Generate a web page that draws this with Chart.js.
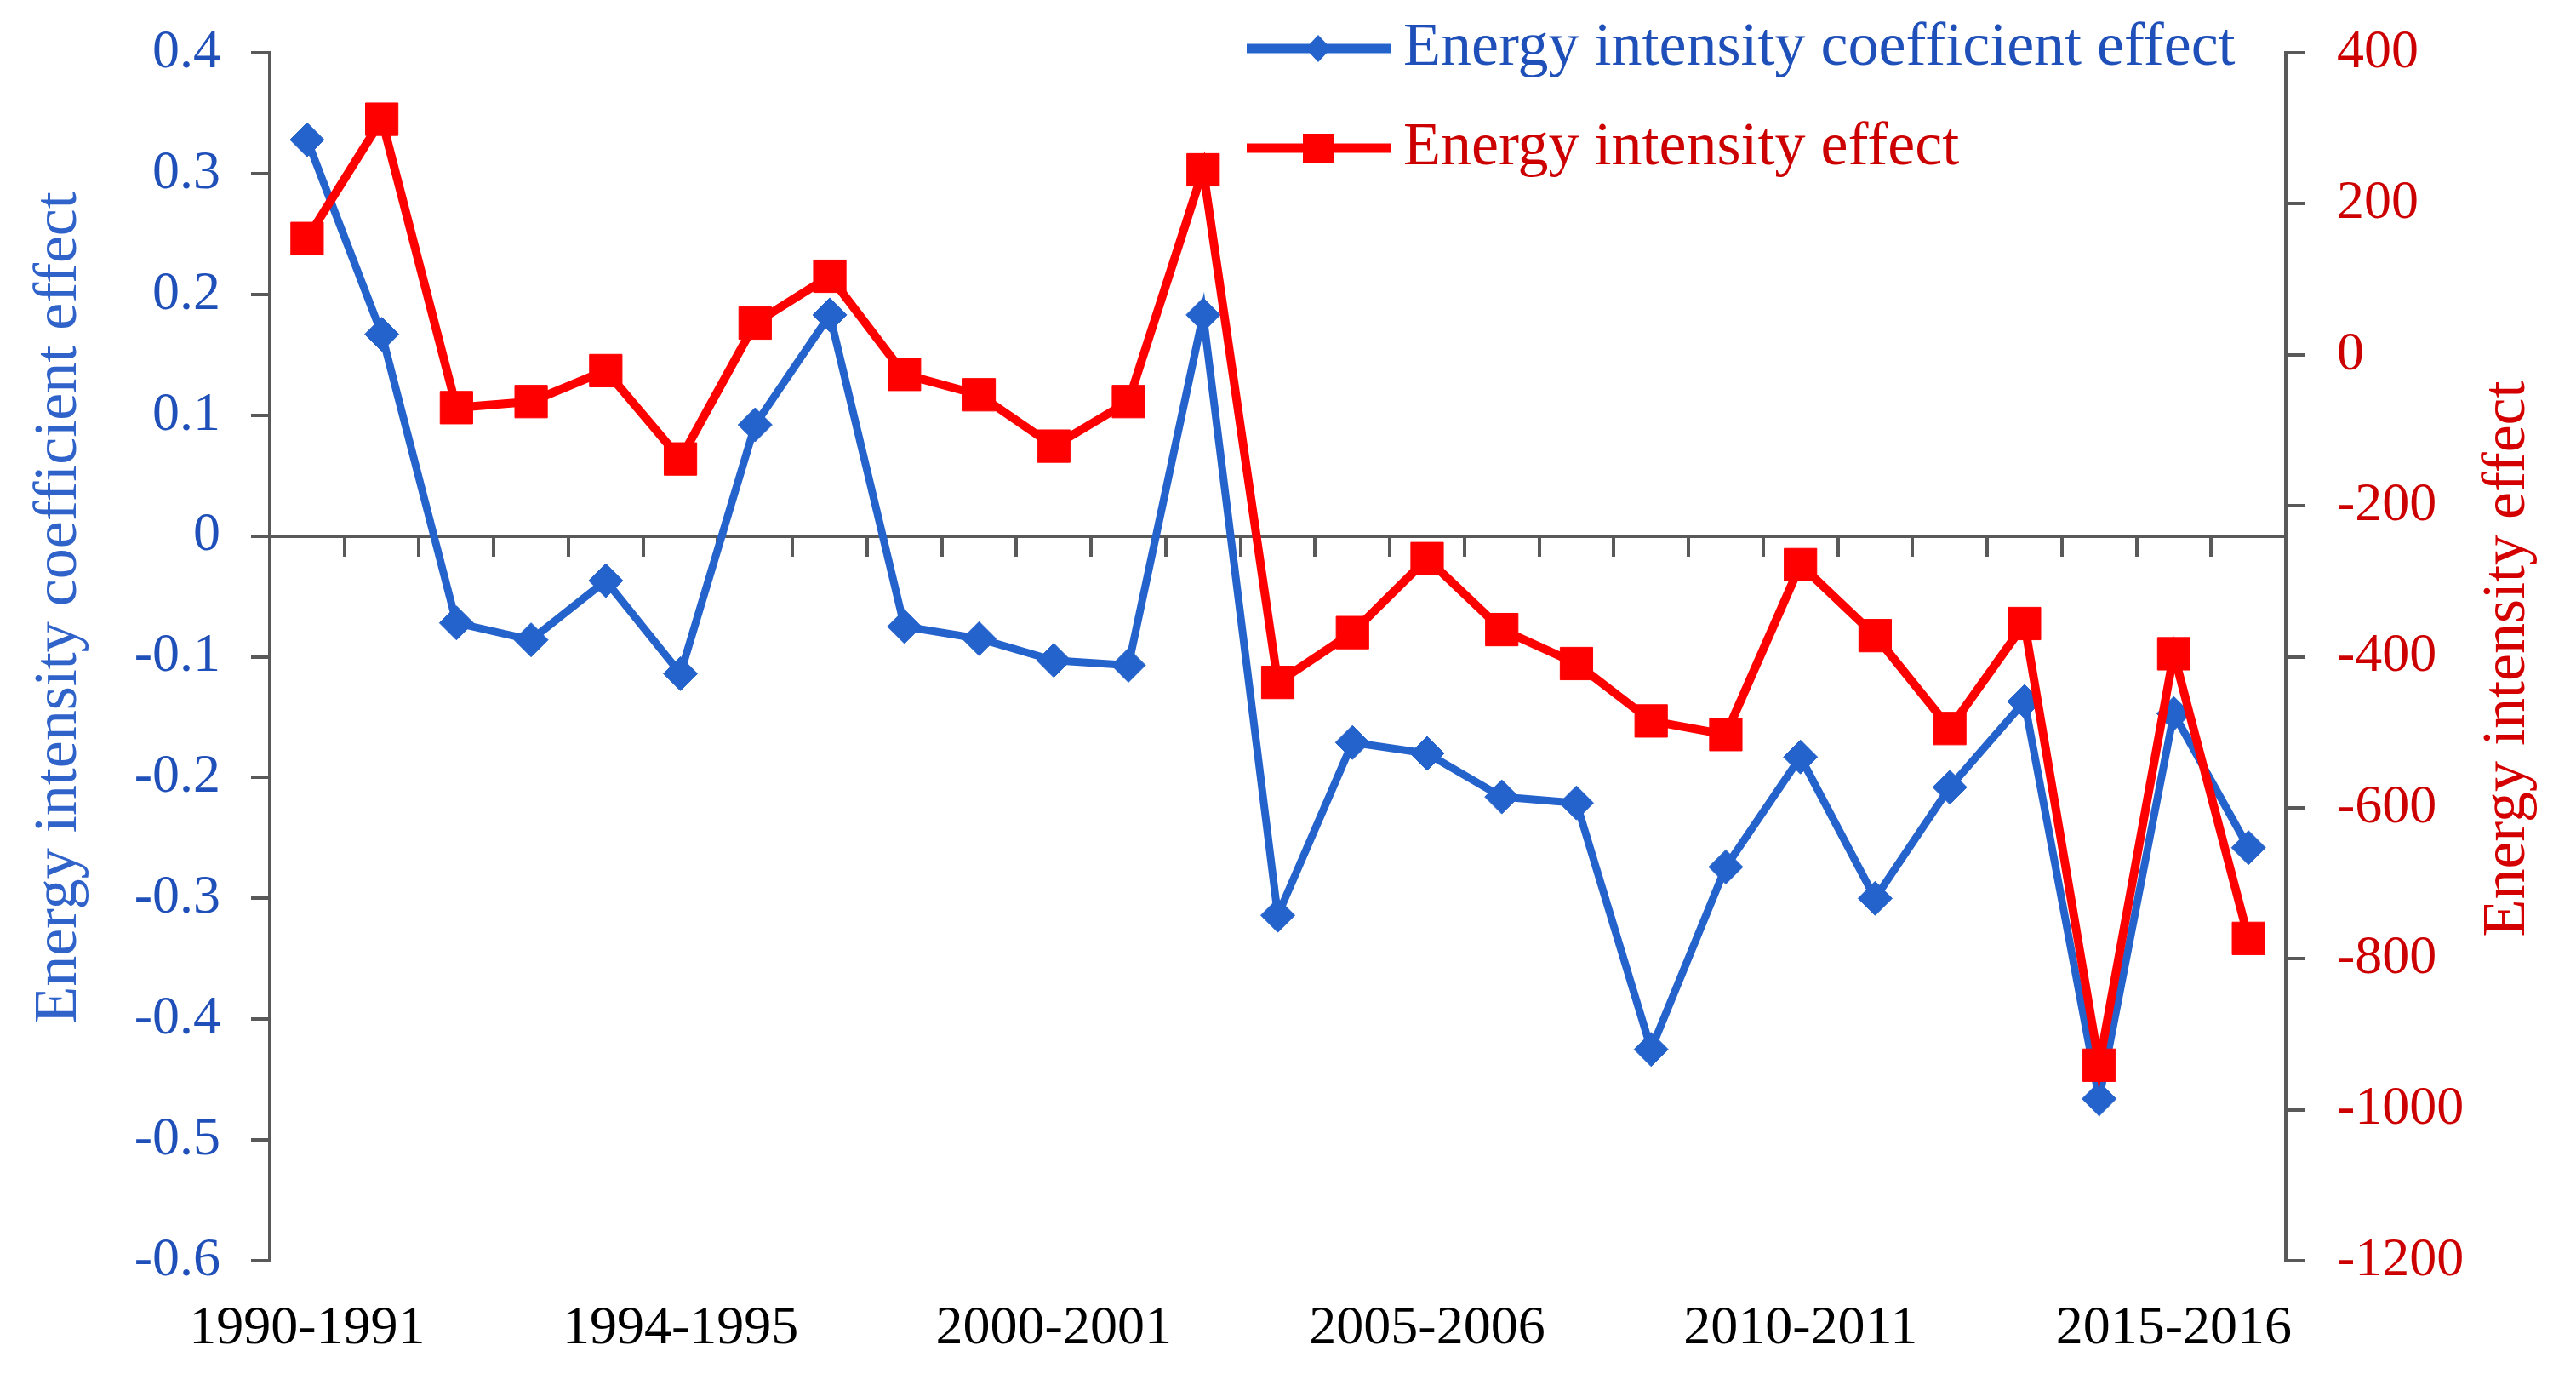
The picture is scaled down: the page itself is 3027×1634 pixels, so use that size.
<!DOCTYPE html>
<html>
<head>
<meta charset="utf-8">
<script src="https://cdn.jsdelivr.net/npm/chart.js@4.4.1/dist/chart.umd.min.js"></script>
<style>
    html, body { margin: 0; padding: 0; background: #ffffff; }
    #wrap { width: 3027px; height: 1634px; }
</style>
</head>
<body>
<div id="wrap"><canvas id="chart" width="3027" height="1634"></canvas></div>
<script>
// Periods on the category axis
const arrPeriods = [
    '1990-1991', '1991-1992', '1992-1993', '1993-1994', '1994-1995', '1995-1996',
    '1996-1997', '1997-1998', '1998-1999', '1999-2000', '2000-2001', '2001-2002',
    '2002-2003', '2003-2004', '2004-2005', '2005-2006', '2006-2007', '2007-2008',
    '2008-2009', '2009-2010', '2010-2011', '2011-2012', '2012-2013', '2013-2014',
    '2014-2015', '2015-2016', '2016-2017'
];

// Labels printed under the axis, one every fifth period (as in the figure)
const arrTickLabels = ['1990-1991', '1994-1995', '2000-2001', '2005-2006', '2010-2011', '2015-2016'];
const nLabelEvery = 5;

// Energy intensity coefficient effect (left axis)
const arrCoefEffect = [
    0.328, 0.167, -0.072, -0.086, -0.037, -0.114, 0.092, 0.183, -0.075,
    -0.085, -0.103, -0.107, 0.183, -0.314, -0.171, -0.180, -0.216, -0.221,
    -0.425, -0.274, -0.183, -0.300, -0.208, -0.137, -0.466, -0.147, -0.258
];

// Energy intensity effect (right axis)
const arrIntensityEffect = [
    154, 312, -70, -62, -21, -138, 42, 104, -26,
    -53, -121, -62, 245, -434, -368, -270, -364, -409,
    -485, -503, -278, -372, -495, -356, -941, -396, -773
];

// Axis ticks
const arrLeftTicks = [0.4, 0.3, 0.2, 0.1, 0, -0.1, -0.2, -0.3, -0.4, -0.5, -0.6];
const arrRightTicks = [400, 200, 0, -200, -400, -600, -800, -1000, -1200];

// Colours & fonts
const strBlue = '#2462CC';
const strBlueText = '#1F4FB8';
const strRed = '#FF0000';
const strRedText = '#CC0000';
const strAxis = '#595959';
const strFont = '"Liberation Serif", "Times New Roman", serif';

/** Draws an Excel-like legend and both axis titles on top of the chart */
const excelExtrasPlugin = {
    id: 'excelExtras',
    afterDraw(chart) {
        const ctx = chart.ctx;
        ctx.save();

        // Legend: line + marker + text, blue row then red row
        const arrRows = [
            { ds: chart.data.datasets[0], y: 57, marker: 'diamond', color: strBlue, text: strBlueText },
            { ds: chart.data.datasets[1], y: 174, marker: 'square', color: strRed, text: strRedText }
        ];
        for (const cRow of arrRows) {
            ctx.strokeStyle = cRow.color;
            ctx.lineWidth = 11;
            ctx.beginPath();
            ctx.moveTo(1465, cRow.y);
            ctx.lineTo(1634, cRow.y);
            ctx.stroke();

            ctx.fillStyle = cRow.color;
            ctx.beginPath();
            if (cRow.marker === 'diamond') {
                ctx.moveTo(1549, cRow.y - 16);
                ctx.lineTo(1564, cRow.y);
                ctx.lineTo(1549, cRow.y + 16);
                ctx.lineTo(1534, cRow.y);
                ctx.closePath();
            } else {
                ctx.rect(1549 - 18, cRow.y - 17, 36, 34);
            }
            ctx.fill();

            ctx.fillStyle = cRow.text;
            ctx.font = '72px ' + strFont;
            ctx.textAlign = 'left';
            ctx.textBaseline = 'middle';
            ctx.fillText(cRow.ds.label, 1649, cRow.y);
        }

        // Axis titles, rotated to read bottom to top
        const arrTitles = [
            { text: 'Energy intensity coefficient effect', x: 89, y: 714, color: '#2F63C9' },
            { text: 'Energy intensity effect', x: 2966, y: 774, color: '#D40000' }
        ];
        for (const cTitle of arrTitles) {
            ctx.save();
            ctx.translate(cTitle.x, cTitle.y);
            ctx.rotate(-Math.PI / 2);
            ctx.fillStyle = cTitle.color;
            ctx.font = '72px ' + strFont;
            ctx.textAlign = 'center';
            ctx.textBaseline = 'alphabetic';
            ctx.fillText(cTitle.text, 0, 0);
            ctx.restore();
        }

        ctx.restore();
    }
};

/** Fixes a value axis to a set width and stops its labels from padding the plot */
function fitValueAxis(scale, nWidth) {
    scale.width = nWidth;
    scale.paddingTop = 0;
    scale.paddingBottom = 0;
}

const ctx = document.getElementById('chart').getContext('2d');

new Chart(ctx, {
    type: 'line',
    data: {
        labels: arrPeriods,
        datasets: [{
            label: 'Energy intensity coefficient effect',
            data: arrCoefEffect,
            yAxisID: 'y',
            borderColor: strBlue,
            backgroundColor: strBlue,
            borderWidth: 9,
            pointStyle: 'rectRot',
            pointRadius: 20,
            pointBorderWidth: 1,
            pointBorderColor: strBlue,
            pointBackgroundColor: strBlue,
            tension: 0,
            clip: false,
            order: 1
        }, {
            label: 'Energy intensity effect',
            data: arrIntensityEffect,
            yAxisID: 'y1',
            borderColor: strRed,
            backgroundColor: strRed,
            borderWidth: 10,
            pointStyle: 'rect',
            pointRadius: 27,
            pointBorderWidth: 1,
            pointBorderColor: strRed,
            pointBackgroundColor: strRed,
            tension: 0,
            clip: false,
            order: 0
        }]
    },
    options: {
        responsive: false,
        animation: false,
        devicePixelRatio: 1,
        events: [],
        layout: { padding: { top: 62, left: 0, right: 0, bottom: 0 } },
        plugins: {
            legend: { display: false },
            tooltip: { enabled: false }
        },
        scales: {
            // Category axis sitting on the zero line, tick marks only
            x: {
                type: 'category',
                position: { y: 0 },
                offset: true,
                grid: {
                    offset: true,
                    drawOnChartArea: false,
                    drawTicks: true,
                    tickLength: 22,
                    color: strAxis,
                    lineWidth: 4
                },
                border: { display: true, color: strAxis, width: 4 },
                ticks: { display: false }
            },
            // Same categories, labels only, at the bottom of the plot
            x2: {
                type: 'category',
                position: 'bottom',
                offset: true,
                grid: { display: false, drawTicks: false },
                border: { display: false },
                ticks: {
                    autoSkip: false,
                    maxRotation: 0,
                    padding: 42,
                    color: '#000000',
                    font: { family: strFont, size: 64 },
                    callback: (value, index) => index % nLabelEvery === 0 ? arrTickLabels[index / nLabelEvery] : ''
                },
                afterFit: (scale) => { scale.height = 153; }
            },
            y: {
                position: 'left',
                min: -0.6,
                max: 0.4,
                grid: {
                    drawOnChartArea: false,
                    drawTicks: true,
                    tickLength: 22,
                    color: strAxis,
                    lineWidth: 4
                },
                border: { display: true, color: strAxis, width: 4 },
                ticks: {
                    padding: 36,
                    color: strBlueText,
                    font: { family: strFont, size: 64 },
                    callback: (value) => String(Number(value.toFixed(1)))
                },
                afterBuildTicks: (scale) => { scale.ticks = arrLeftTicks.map(v => ({ value: v })); },
                afterFit: (scale) => fitValueAxis(scale, 317)
            },
            y1: {
                position: 'right',
                min: -1200,
                max: 400,
                grid: {
                    drawOnChartArea: false,
                    drawTicks: true,
                    tickLength: 22,
                    color: strAxis,
                    lineWidth: 4
                },
                border: { display: true, color: strAxis, width: 4 },
                ticks: {
                    padding: 38,
                    color: strRedText,
                    font: { family: strFont, size: 64 },
                    callback: (value) => String(value)
                },
                afterBuildTicks: (scale) => { scale.ticks = arrRightTicks.map(v => ({ value: v })); },
                afterFit: (scale) => fitValueAxis(scale, 341)
            }
        }
    },
    plugins: [excelExtrasPlugin]
});
</script>
</body>
</html>
